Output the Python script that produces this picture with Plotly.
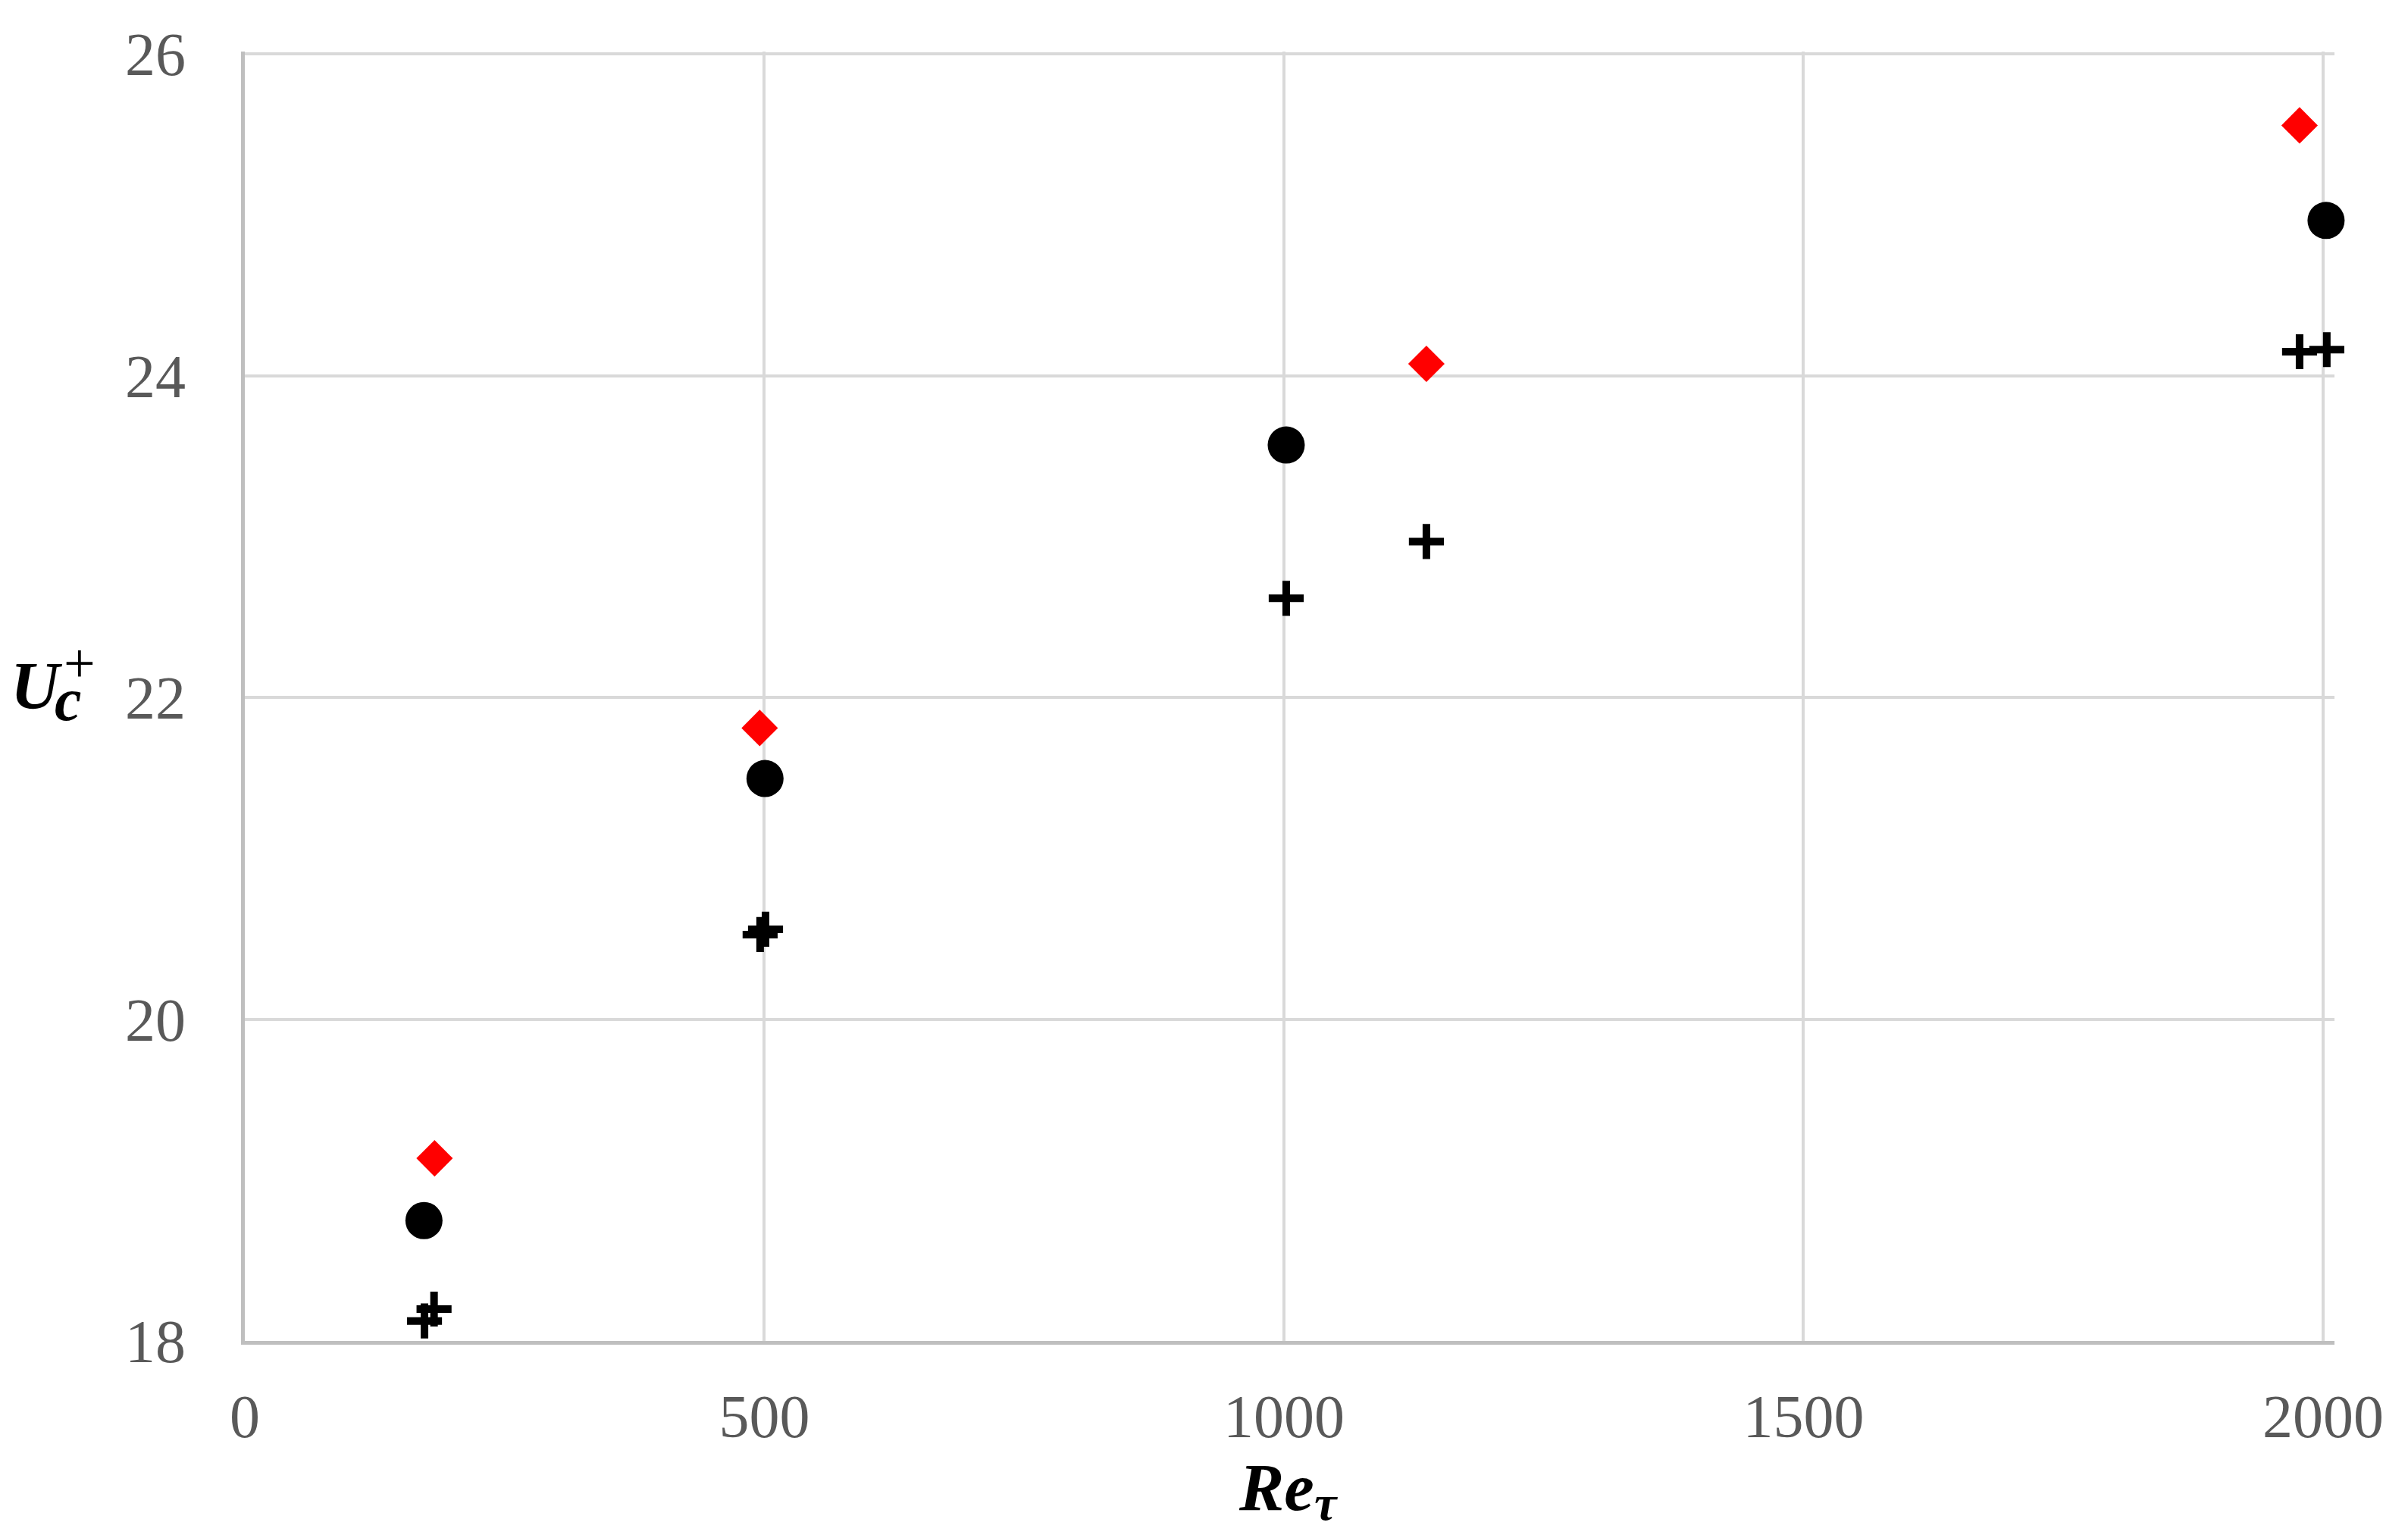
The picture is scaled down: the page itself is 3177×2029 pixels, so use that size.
import plotly.graph_objects as go

# --- data ---
re_circle = [172.4, 500.6, 1002.2, 2002.9]
uc_circle = [18.748, 21.496, 23.569, 24.965]

re_diamond = [182.6, 495.5, 1137.1, 1977.4]
uc_diamond = [19.135, 21.81, 24.074, 25.556]

re_plus_a = [172.9, 501.1, 1002.2, 2003.6]
uc_plus_a = [18.124, 20.559, 22.616, 24.162]

re_plus_b = [182.1, 495.9, 1137.1, 1977.4]
uc_plus_b = [18.198, 20.526, 22.969, 24.149]

x_ticks = [0, 500, 1000, 1500, 2000]
y_ticks = [18, 20, 22, 24, 26]

W, H = 3177, 2029          # browser window
BODY = 8                   # default body margin of the html page
FW, FH = W - 2 * BODY, H - 2 * BODY
# plot area in page pixels: x 323..3080, y 68..1769
LEFT, TOP = 323 - BODY, 68 - BODY
RIGHT, BOTTOM = FW - (3080 - BODY), FH - (1769 - BODY)

TICK_FONT = dict(family="Liberation Serif", size=80, color="#595959")
TITLE_FAMILY = "Liberation Serif"


def px_to_paper(px, py):
    """Page pixel position -> paper coordinates."""
    pw = FW - LEFT - RIGHT
    ph = FH - TOP - BOTTOM
    return (px - BODY - LEFT) / pw, (FH - BOTTOM - (py - BODY)) / ph


def main():
    fig = go.Figure()

    plus_marker = dict(symbol="cross-thin", size=33, color="black",
                       line=dict(color="black", width=10))
    fig.add_trace(go.Scatter(x=re_plus_a, y=uc_plus_a, mode="markers",
                             marker=plus_marker, cliponaxis=False))
    fig.add_trace(go.Scatter(x=re_plus_b, y=uc_plus_b, mode="markers",
                             marker=plus_marker, cliponaxis=False))
    fig.add_trace(go.Scatter(x=re_circle, y=uc_circle, mode="markers",
                             marker=dict(symbol="circle", size=49, color="black"),
                             cliponaxis=False))
    fig.add_trace(go.Scatter(x=re_diamond, y=uc_diamond, mode="markers",
                             marker=dict(symbol="diamond", size=37, color="#ff0000"),
                             cliponaxis=False))

    fig.update_xaxes(
        range=[0, 2011], tickvals=x_ticks, ticktext=[str(v) for v in x_ticks],
        showgrid=True, gridcolor="#d9d9d9", gridwidth=4,
        showline=True, linecolor="#bfbfbf", linewidth=5,
        zeroline=False, ticks="", tickfont=TICK_FONT, ticklabelstandoff=26,
    )
    fig.update_yaxes(
        range=[18, 26.015], tickvals=y_ticks, ticktext=[str(v) for v in y_ticks],
        showgrid=True, gridcolor="#d9d9d9", gridwidth=4,
        showline=True, linecolor="#bfbfbf", linewidth=5,
        zeroline=False, ticks="", tickfont=TICK_FONT, ticklabelstandoff=57,
    )

    # axis titles U_c^+ and Re_tau, built from pieces so sub/superscripts
    # can be stacked and sized like the math font in the original
    pieces = [
        ("<b><i>U</i></b>", 48, 904, 89),
        ("<b><i>c</i></b>", 90, 923, 80),
        ("+", 105, 875, 74),
        ("<b><i>Re</i></b>", 1684, 1962, 89),
        ("<b><i>τ</i></b>", 1749, 1982, 66),
    ]
    for text, px, py, size in pieces:
        ax, ay = px_to_paper(px, py)
        fig.add_annotation(text=text, x=ax, y=ay, xref="paper", yref="paper",
                           xanchor="center", yanchor="middle", showarrow=False,
                           font=dict(family=TITLE_FAMILY, size=size, color="black"))

    fig.update_layout(
        width=FW, height=FH,
        margin=dict(l=LEFT, r=RIGHT, t=TOP, b=BOTTOM, autoexpand=False),
        paper_bgcolor="white", plot_bgcolor="white",
        showlegend=False,
    )

    fig.write_html("out.html")


if __name__ == "__main__":
    main()
